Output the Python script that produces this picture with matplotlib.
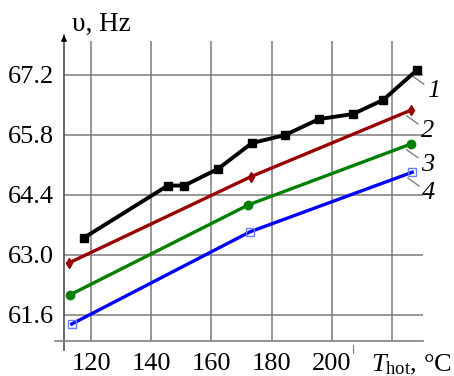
import matplotlib
matplotlib.use("Agg")
import matplotlib.pyplot as plt
from matplotlib.lines import Line2D

plt.rcParams['font.family'] = ['Liberation Serif', 'DejaVu Serif']
plt.rcParams['mathtext.fontset'] = 'custom'
plt.rcParams['mathtext.rm'] = 'Liberation Serif'
plt.rcParams['mathtext.it'] = 'Liberation Serif:italic'

# Data
x1 = [117.6, 145.5, 151.0, 162.2, 173.4, 184.5, 195.7, 207.1, 217.1, 228.2]
y1 = [63.40, 64.62, 64.62, 65.01, 65.61, 65.80, 66.17, 66.29, 66.62, 67.31]
x2 = [112.5, 173.2, 226.3]
y2 = [62.81, 64.83, 66.38]
x3 = [113.0, 172.3, 226.3]
y3 = [62.07, 64.17, 65.59]
x4 = [113.6, 172.8, 226.7]
y4 = [61.39, 63.54, 64.93]
series_labels = ["1", "2", "3", "4"]
xticks = [120, 140, 160, 180, 200, 220]
xtick_labels = ["120", "140", "160", "180", "200", ""]
yticks = [61.6, 63.0, 64.4, 65.8, 67.2]
ytick_labels = ["61.6", "63.0", "64.4", "65.8", "67.2"]

W, H = 454, 376
fig = plt.figure(figsize=(W / 100, H / 100), dpi=100)
ax = fig.add_axes([64 / W, (H - 340.7) / H, (423 - 64) / W, (340.7 - 40.7) / H])
ax.set_xlim(111, 230.3)
ax.set_ylim(61.0, 68.0)

for s in ax.spines.values():
    s.set_visible(False)

grid_c = '#7a7a7a'
for xt in xticks:
    ax.plot([xt, xt], [61.0, 68.0], color=grid_c, lw=1.1, zorder=1)
for yt in yticks:
    ax.plot([111, 230.3], [yt, yt], color=grid_c, lw=1.1, zorder=1)

# axes lines
ax.add_line(Line2D([0, 0], [-0.031, 1.02], transform=ax.transAxes, color='#505050', lw=1.2, clip_on=False))
ax.add_line(Line2D([-0.025, 1.0], [0, 0], transform=ax.transAxes, color='#808080', lw=1.2, clip_on=False))
ax.add_line(Line2D([0.805, 0.805], [-0.014, -0.04], transform=ax.transAxes, color='#808080', lw=0.8, clip_on=False))
ax.annotate('', xy=(0, 1.028), xytext=(0, 1.0), xycoords='axes fraction',
            arrowprops=dict(arrowstyle='-|>', color='black', lw=1.0, mutation_scale=8), annotation_clip=False)

ax.set_xticks(xticks)
ax.set_xticklabels(xtick_labels)
ax.set_yticks(yticks)
ax.set_yticklabels(ytick_labels)
ax.tick_params(length=0, labelsize=19, colors='black')
ax.tick_params(axis='x', pad=9)
ax.tick_params(axis='y', pad=7)

ax.plot(x1, y1, color='black', lw=2.8, marker='s', ms=5.8, zorder=5, clip_on=False)
ax.plot(x2, y2, color='#990000', lw=2.4, marker='d', ms=5, zorder=5, clip_on=False)
ax.plot(x3, y3, color='#008000', lw=2.4, marker='o', ms=6, zorder=5, clip_on=False)
ax.plot(x4, y4, color='#0000ff', lw=2.4, zorder=5, clip_on=False)
ax.plot(x4, y4, ls='none', marker='s', ms=5.5, mfc='none', mec='#6680ff', mew=1.0, zorder=6, clip_on=False)

ends = [(x1[-1], y1[-1]), (x2[-1], y2[-1]), (x3[-1], y3[-1]), (x4[-1], y4[-1])]
for lab, (ex, ey) in zip(series_labels, ends):
    ax.annotate(lab, xy=(ex - 1.5, ey - 0.13), xytext=(ex + 3.3, ey - 0.48),
                fontsize=19, style='italic', va='center', ha='left',
                arrowprops=dict(arrowstyle='-', color='#808080', lw=1.0, shrinkA=0, shrinkB=0),
                annotation_clip=False)

fig.text(72 / W, 1 - 31 / H, 'υ, Hz', fontsize=19.5, ha='left', va='baseline')
fig.text(452 / W, 1 - 371 / H, r'$T_{\mathrm{hot}}$, °C', fontsize=19, ha='right', va='baseline')

fig.savefig('out.png', dpi=100)
